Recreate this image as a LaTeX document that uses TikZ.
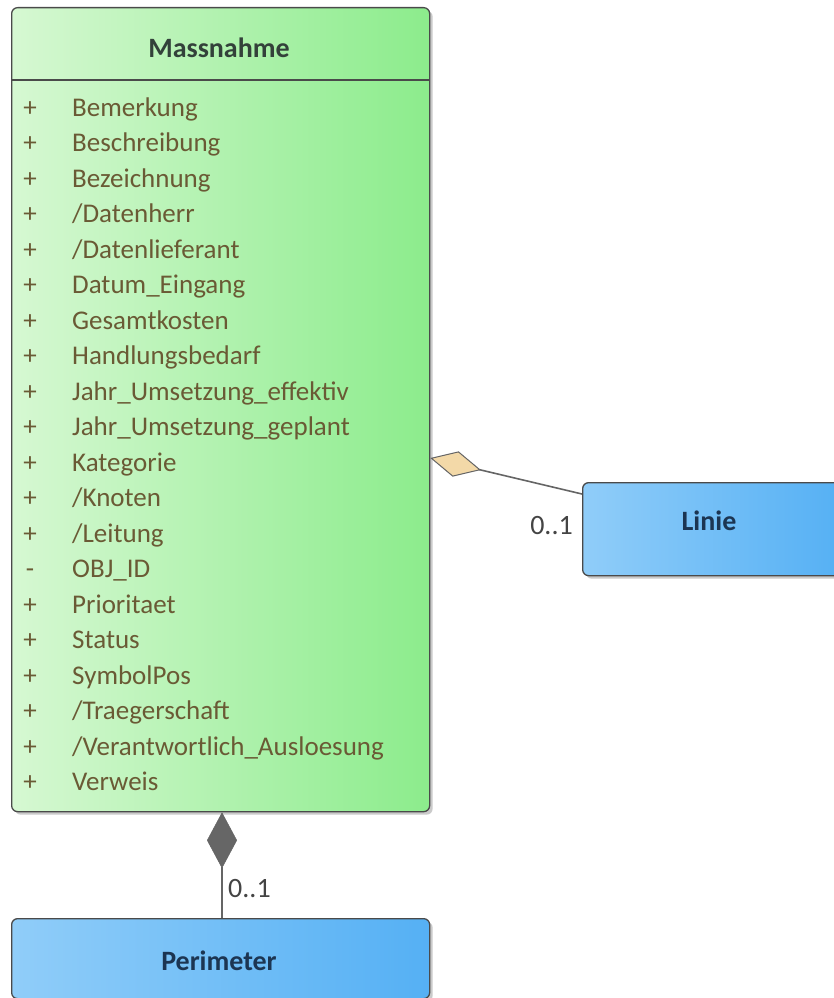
\documentclass[tikz,border=0pt]{standalone}
\usepackage{fontspec}
\setmainfont{Carlito}
\usetikzlibrary{arrows.meta,shadows,calc}
\definecolor{greenL}{HTML}{D6F8D2}
\definecolor{greenR}{HTML}{8CEC8C}
\definecolor{blueL}{HTML}{90CDF9}
\definecolor{blueR}{HTML}{55B0F4}
\definecolor{borderc}{HTML}{4A4A4A}
\definecolor{attrc}{HTML}{6A5A35}
\definecolor{titlec}{HTML}{33413A}
\definecolor{bluetext}{HTML}{1C3552}
\definecolor{diamondtan}{HTML}{F3D9A8}
\definecolor{diamondgray}{HTML}{666666}
\definecolor{multc}{HTML}{444444}
\tikzset{
  classbox/.style={draw=borderc, line width=1.3pt, rounded corners=6pt, inner sep=0pt,
    drop shadow={shadow xshift=3pt, shadow yshift=-3pt, opacity=0.35, fill=black!60}},
  greenbox/.style={classbox, left color=greenL, right color=greenR},
  bluebox/.style={classbox, left color=blueL, right color=blueR},
  attr/.style={font=\fontsize{27}{32}\selectfont, text=attrc, inner sep=0pt, anchor=base west},
  vis/.style={font=\fontsize{27}{32}\selectfont, text=attrc, inner sep=0pt, anchor=base},
  ctitle/.style={font=\fontsize{28}{32}\selectfont\bfseries, inner sep=0pt, anchor=base},
  mult/.style={font=\fontsize{28}{32}\selectfont, text=multc, inner sep=0pt},
  conn/.style={draw=borderc!85, line width=1.6pt},
  agg/.style={conn, -{Diamond[length=52pt, width=26pt, fill=diamondtan, line width=1pt]}},
  comp/.style={conn, -{Diamond[length=56pt, width=30pt, fill=diamondgray, line width=0.5pt]}},
}
\newcommand{\attrrow}[4]{%
  \node[vis] (v#1) at (30,#2) {#3};
  \node[attr] (a#1) at (72,#2) {#4};}
\begin{document}
\begin{tikzpicture}[x=1pt,y=-1pt]
\useasboundingbox (0,0) rectangle (834,998);
\clip (0,0) rectangle (834,998);
% Massnahme
\node[greenbox, anchor=north west, minimum width=418pt, minimum height=804pt] (mass) at (11,7) {};
\draw[draw=borderc, line width=1.3pt] (mass.west |- 0,80) -- (mass.east |- 0,80);
\node[ctitle, text=titlec] (masst) at (219,57) {Massnahme};
\attrrow{1}{116}{+}{Bemerkung}
\attrrow{2}{151.5}{+}{Beschreibung}
\attrrow{3}{187}{+}{Bezeichnung}
\attrrow{4}{222.5}{+}{/Datenherr}
\attrrow{5}{258}{+}{/Datenlieferant}
\attrrow{6}{293.5}{+}{Datum\_Eingang}
\attrrow{7}{329}{+}{Gesamtkosten}
\attrrow{8}{364.5}{+}{Handlungsbedarf}
\attrrow{9}{400}{+}{Jahr\_Umsetzung\_effektiv}
\attrrow{10}{435.5}{+}{Jahr\_Umsetzung\_geplant}
\attrrow{11}{471}{+}{Kategorie}
\attrrow{12}{506.5}{+}{/Knoten}
\attrrow{13}{542}{+}{/Leitung}
\attrrow{14}{577.5}{-}{OBJ\_ID}
\attrrow{15}{613}{+}{Prioritaet}
\attrrow{16}{648.5}{+}{Status}
\attrrow{17}{684}{+}{SymbolPos}
\attrrow{18}{719.5}{+}{/Traegerschaft}
\attrrow{19}{755}{+}{/Verantwortlich\_Ausloesung}
\attrrow{20}{790.5}{+}{Verweis}
% Linie
\node[bluebox, anchor=north west, minimum width=260pt, minimum height=93pt] (linie) at (582,482) {};
\node[ctitle, text=bluetext] (liniet) at (709,530) {Linie};
% Perimeter
\node[bluebox, anchor=north west, minimum width=418pt, minimum height=80pt] (peri) at (11,918) {};
\node[ctitle, text=bluetext] (perit) at (219,970) {Perimeter};
% connectors
\coordinate (linieend) at (linie.west |- 0,494);
\coordinate (massagg) at (mass.east |- 0,458);
\draw[agg] (linieend) -- (massagg);
\node[mult, anchor=base east] (m1) at (573,534) {0..1};
\draw[comp] (peri.north -| 222,0) -- (mass.south -| 222,0);
\node[mult, anchor=base west] (m2) at (228,897) {0..1};
\end{tikzpicture}
\end{document}
